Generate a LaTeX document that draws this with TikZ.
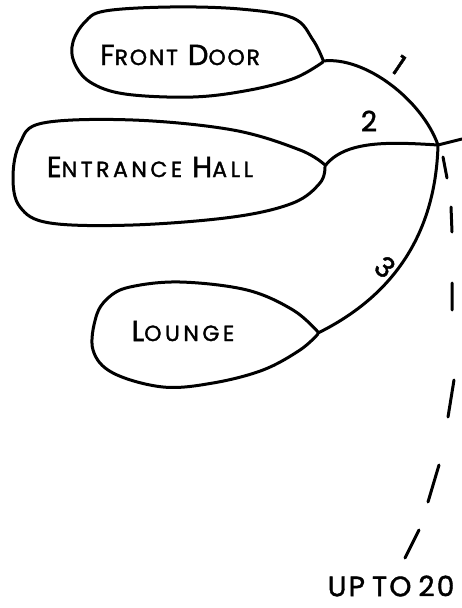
\documentclass[tikz,border=0pt]{standalone}
\usepackage{fontspec}
\setmainfont{Poppins}[LetterSpace=8,FakeBold=1.5]
\newfontfamily\wide{Poppins}[LetterSpace=16,FakeBold=1.5]
\newcommand\hsc[2]{{\fontsize{29}{29}\selectfont #1}{\fontsize{22}{22}\selectfont #2}}
\begin{document}
\begin{tikzpicture}[x=1pt,y=-1pt,
  ink/.style={line width=3pt,line cap=round,line join=round},
  lbl/.style={inner sep=0pt,font=\fontsize{28}{28}\selectfont},
  txt/.style={inner sep=0pt},
  dashseg/.style={ink}]
\useasboundingbox (0,0) rectangle (462,608);
% blobs
\draw[ink] plot[smooth,tension=0.6] coordinates {(323,60) (313,40) (293,18) (240,9) (170,7) (105,11) (85,22) (73,42) (74,62) (90,82) (125,94) (193,97) (250,90) (295,78) (323,62)};
\draw[ink] plot[smooth,tension=0.6] coordinates {(325,165) (300,150) (233,130) (133,120) (43,123) (20,143) (13,177) (20,207) (50,223) (133,225) (233,217) (293,203) (320,183) (325,167)};
\draw[ink] plot[smooth,tension=0.6] coordinates {(318,332) (293,310) (247,290) (180,282) (130,287) (108,298) (96,317) (93,350) (113,373) (163,387) (213,383) (263,370) (300,350) (318,334)};
% texts
\node[txt] (fd) at (180,55) {\hsc{F}{RONT}\hspace{10pt}\hsc{D}{OOR}};
\node[txt] (eh) at (150,167) {\wide\hsc{E}{NTRANCE}\hspace{10pt}\hsc{H}{ALL}};
\node[txt] (lo) at (183,331) {\wide\hsc{L}{OUNGE}};
\node[txt,font=\fontsize{28}{28}\selectfont] (up) at (391,586) {UP\hspace{7pt}TO\hspace{7pt}20};
% tips and hub
\coordinate (fdtip) at (323,61);
\coordinate (ehtip) at (325,166);
\coordinate (lotip) at (318,333);
\coordinate (hub) at (438,145);
\coordinate (out) at (462,139);
% connectors
\draw[ink] (fdtip) .. controls (365,56) and (422,100) .. (hub);
\draw[ink] (hub) .. controls (436,220) and (405,290) .. (lotip);
\draw[ink] (ehtip) .. controls (345,140) and (390,142) .. (hub) -- (out);
% labels
\node[lbl,rotate=-34] (l1) at (399,65) {1};
\node[lbl] (l2) at (369,121) {2};
\node[lbl,rotate=-40] (l3) at (385,267) {3};
% dashed continuation
\draw[dashseg] (443,157) -- (447,178) (451,207) -- (452,232) (452,283) -- (452,310)
  (454,380) -- (448,417) (439,465) -- (428,502) (419,530) -- (405,558);
\end{tikzpicture}
\end{document}
